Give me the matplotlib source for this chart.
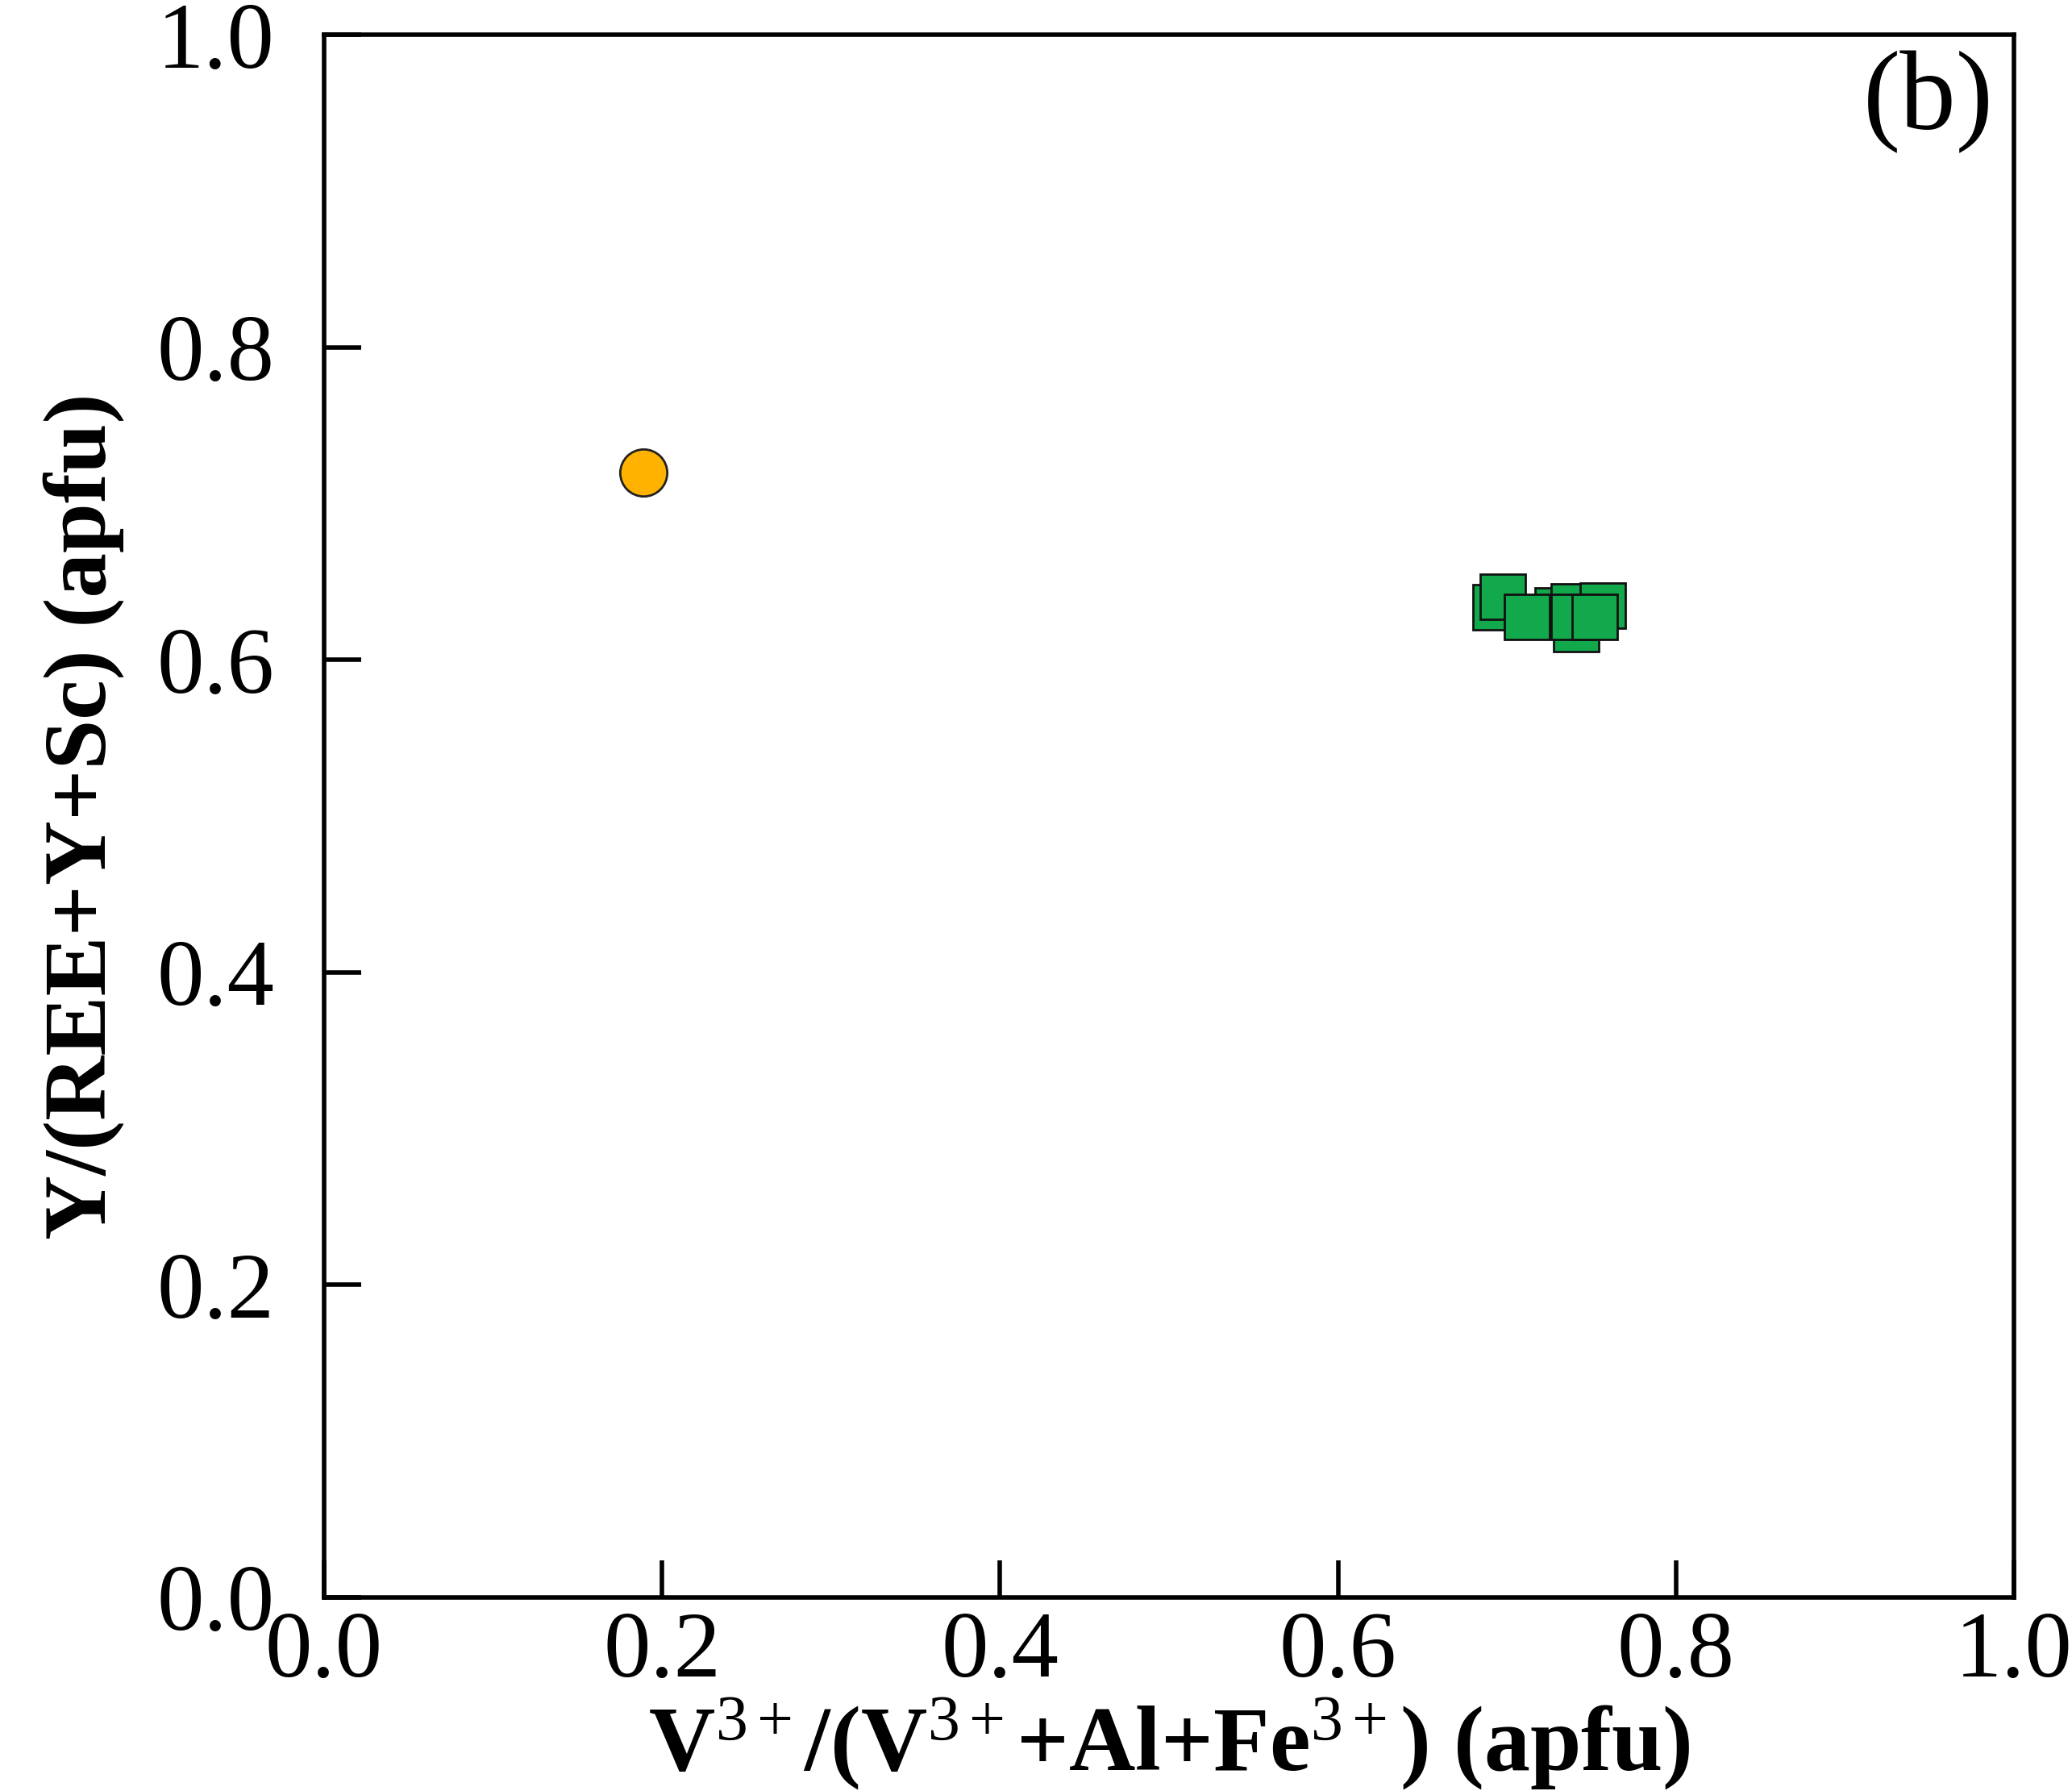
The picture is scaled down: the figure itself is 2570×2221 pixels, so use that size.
import matplotlib
matplotlib.use('Agg')
import matplotlib.pyplot as plt

plt.rcParams['font.family'] = ['Liberation Serif', 'DejaVu Serif']
plt.rcParams['mathtext.fontset'] = 'custom'
plt.rcParams['mathtext.rm'] = 'Liberation Serif'
plt.rcParams['mathtext.it'] = 'Liberation Serif:italic'
plt.rcParams['mathtext.bf'] = 'Liberation Serif:bold'

# orange circle sample
circle_x = [0.189]
circle_y = [0.720]

# green square samples (in drawing order)
square_x = [0.693, 0.6975, 0.730, 0.7395, 0.7567, 0.7409, 0.7118, 0.7395, 0.7519]
square_y = [0.6336, 0.6404, 0.6316, 0.6342, 0.6347, 0.6197, 0.6275, 0.6275, 0.6275]

ticks = [0.0, 0.2, 0.4, 0.6, 0.8, 1.0]
tick_labels = ['0.0', '0.2', '0.4', '0.6', '0.8', '1.0']

fig = plt.figure(figsize=(25.7, 22.21), dpi=100)
ax = fig.add_axes([0.1564, 0.1081, 0.8156, 0.8725])

for x, y in zip(square_x, square_y):
    ax.plot(x, y, marker='s', markersize=41, markerfacecolor='#12a84c',
            markeredgecolor='#111111', markeredgewidth=2, linestyle='None')
ax.plot(circle_x, circle_y, marker='o', markersize=42, markerfacecolor='#ffb300',
        markeredgecolor='#222222', markeredgewidth=2, linestyle='None')

ax.set_xlim(0, 1)
ax.set_ylim(0, 1)
ax.set_xticks(ticks)
ax.set_yticks(ticks)
ax.set_xticklabels(tick_labels)
ax.set_yticklabels(tick_labels)
ax.tick_params(axis='both', direction='in', length=33, width=4, labelsize=84)
ax.tick_params(axis='x', pad=12)
ax.tick_params(axis='y', pad=44)
for s in ax.spines.values():
    s.set_linewidth(4)

ax.set_xlabel(r'V$^{3+}$/(V$^{3+}$+Al+Fe$^{3+}$) (apfu)', fontsize=82,
              fontweight='bold', labelpad=0)
ax.set_ylabel('Y/(REE+Y+Sc) (apfu)', fontsize=80, fontweight='bold', labelpad=29)
ax.text(0.988, 0.957, '(b)', transform=ax.transAxes, fontsize=100,
        ha='right', va='center')

fig.savefig('out.png', dpi=100)
